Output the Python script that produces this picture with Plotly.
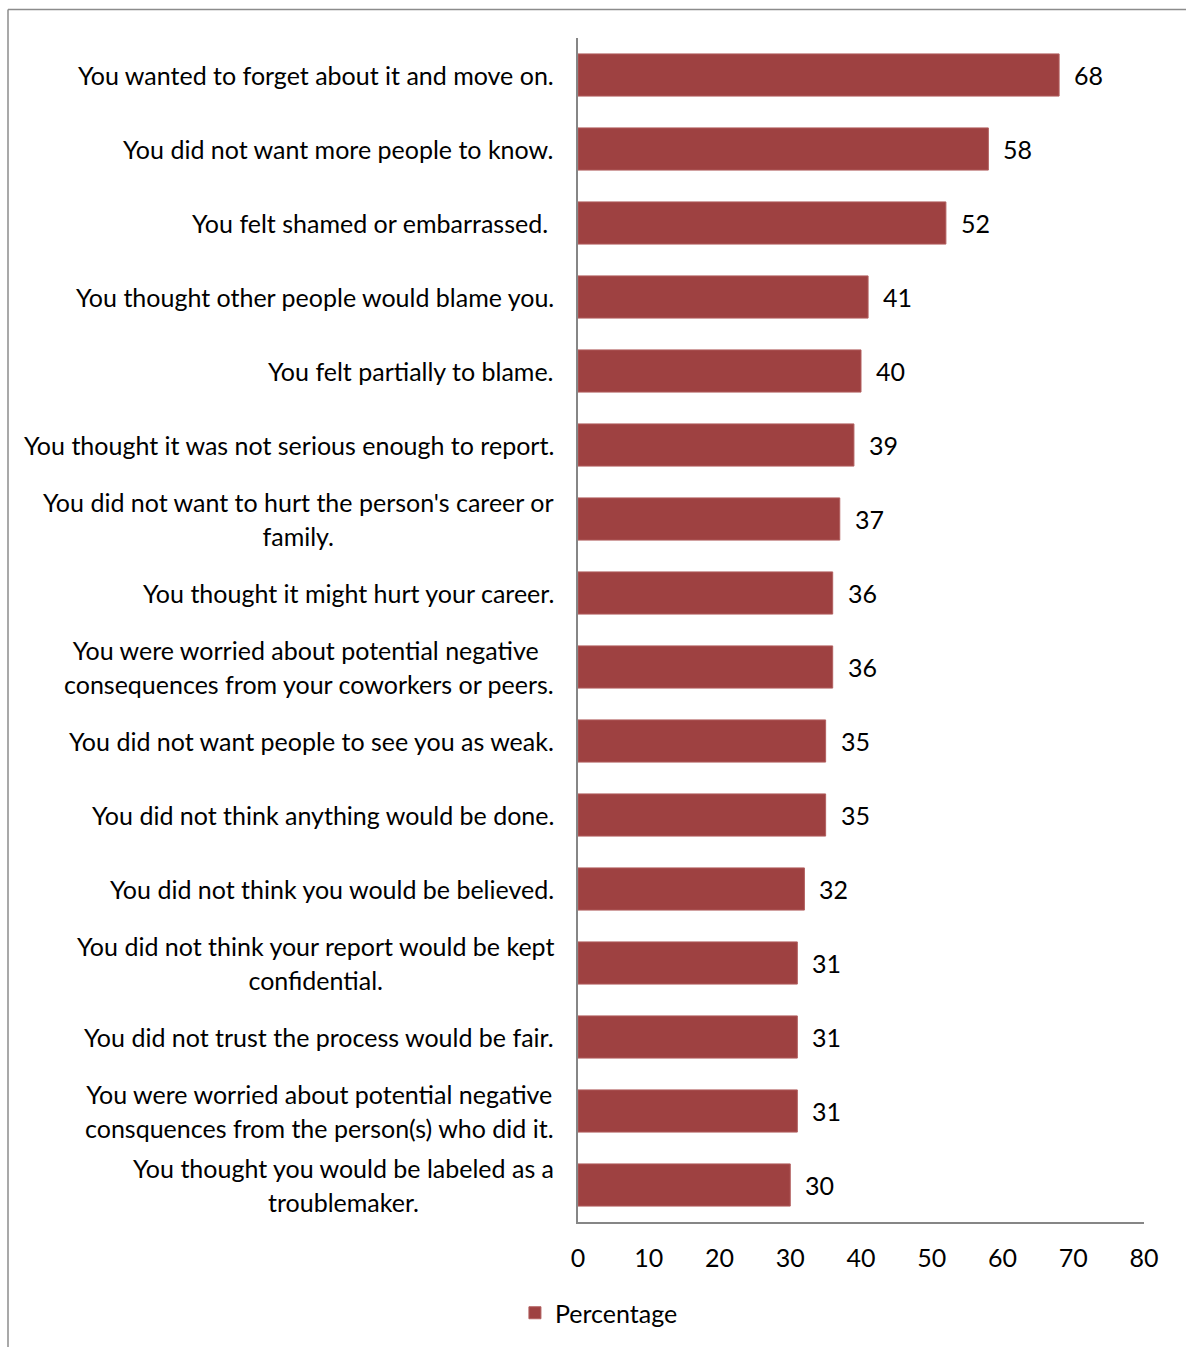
import plotly.graph_objects as go

categories = [
    "You wanted to forget about it and move on.",
    "You did not want more people to know.",
    "You felt shamed or embarrassed. ",
    "You thought other people would blame you.",
    "You felt partially to blame.",
    "You thought it was not serious enough to report.",
    "You did not want to hurt the person's career or<br>family.",
    "You thought it might hurt your career.",
    "You were worried about potential negative <br>consequences from your coworkers or peers.",
    "You did not want people to see you as weak.",
    "You did not think anything would be done.",
    "You did not think you would be believed.",
    "You did not think your report would be kept<br>confidential.",
    "You did not trust the process would be fair.",
    "You were worried about potential negative<br>consquences from the person(s) who did it.",
    "You thought you would be labeled as a<br>troublemaker.",
]
values = [68, 58, 52, 41, 40, 39, 37, 36, 36, 35, 35, 32, 31, 31, 31, 30]
x_ticks = [0, 10, 20, 30, 40, 50, 60, 70, 80]
series_name = "Percentage"

FONT = "Lato"
FS = 25
BAR = "#9E4141"
AXIS = "#868686"

W, H = 1186, 1347
L, R, T, B = 578, 42, 38, 125
pw, ph = W - L - R, H - T - B

def px_x(px):
    return (px - L) / pw

def px_y(py):
    return (H - B - py) / ph

fig = go.Figure()
fig.add_trace(go.Bar(
    x=values, y=categories, orientation="h", name=series_name,
    marker=dict(color=BAR, line=dict(color="#B25F5F", width=1)),
    width=0.57, showlegend=True,
))

annotations = []
# data labels
for c, v in zip(categories, values):
    annotations.append(dict(x=v, y=c, xref="x", yref="y", text=str(v),
                            xanchor="left", showarrow=False, xshift=13,
                            font=dict(family=FONT, size=FS, color="black")))

# category labels
HALF = 16.5
LS = 1.3 * FS / 2
clear = "<span style='color:rgba(0,0,0,0)'>%s</span>"
for c in categories:
    parts = c.split("<br>")
    if len(parts) == 1:
        annotations.append(dict(x=0, y=c, xref="x", yref="y", text=c,
                                xanchor="right", showarrow=False, xshift=-22,
                                font=dict(family=FONT, size=FS, color="black")))
    else:
        a, b = parts
        annotations.append(dict(x=0, y=c, xref="x", yref="y",
                                text=a + "<br>" + clear % b, align="center",
                                xanchor="right", showarrow=False, xshift=-22,
                                yshift=HALF - LS,
                                font=dict(family=FONT, size=FS, color="black")))
        annotations.append(dict(x=0, y=c, xref="x", yref="y",
                                text=clear % a + "<br>" + b, align="center",
                                xanchor="right", showarrow=False, xshift=-22,
                                yshift=-(HALF - LS),
                                font=dict(family=FONT, size=FS, color="black")))

shapes = [
    dict(type="line", xref="paper", yref="paper", x0=px_x(8), x1=px_x(8),
         y0=px_y(9.5), y1=px_y(H + 5), line=dict(color="#8C8C8C", width=1.5)),
    dict(type="line", xref="paper", yref="paper", x0=px_x(8), x1=px_x(W + 5),
         y0=px_y(9.5), y1=px_y(9.5), line=dict(color="#8C8C8C", width=1.5)),
]

fig.update_layout(
    width=W, height=H,
    margin=dict(l=L, r=R, t=T, b=B, autoexpand=False),
    paper_bgcolor="white", plot_bgcolor="white",
    font=dict(family=FONT, size=FS, color="black"),
    xaxis=dict(range=[0, 80], tickvals=x_ticks, showgrid=False, zeroline=False,
               showline=True, linecolor=AXIS, linewidth=1.5, ticks="",
               ticklabelstandoff=13, tickfont=dict(family=FONT, size=FS, color="black")),
    yaxis=dict(type="category", categoryorder="array", categoryarray=categories,
               autorange="reversed", showticklabels=False, showgrid=False,
               showline=True, linecolor=AXIS, linewidth=1.5, ticks="", zeroline=False),
    annotations=annotations,
    shapes=shapes,
    showlegend=True,
    legend=dict(orientation="h", xref="container", x=0.505, xanchor="center",
                yref="container", y=1 - 1313 / H, yanchor="middle",
                font=dict(family=FONT, size=FS, color="black")),
)

fig.write_html("out.html")
